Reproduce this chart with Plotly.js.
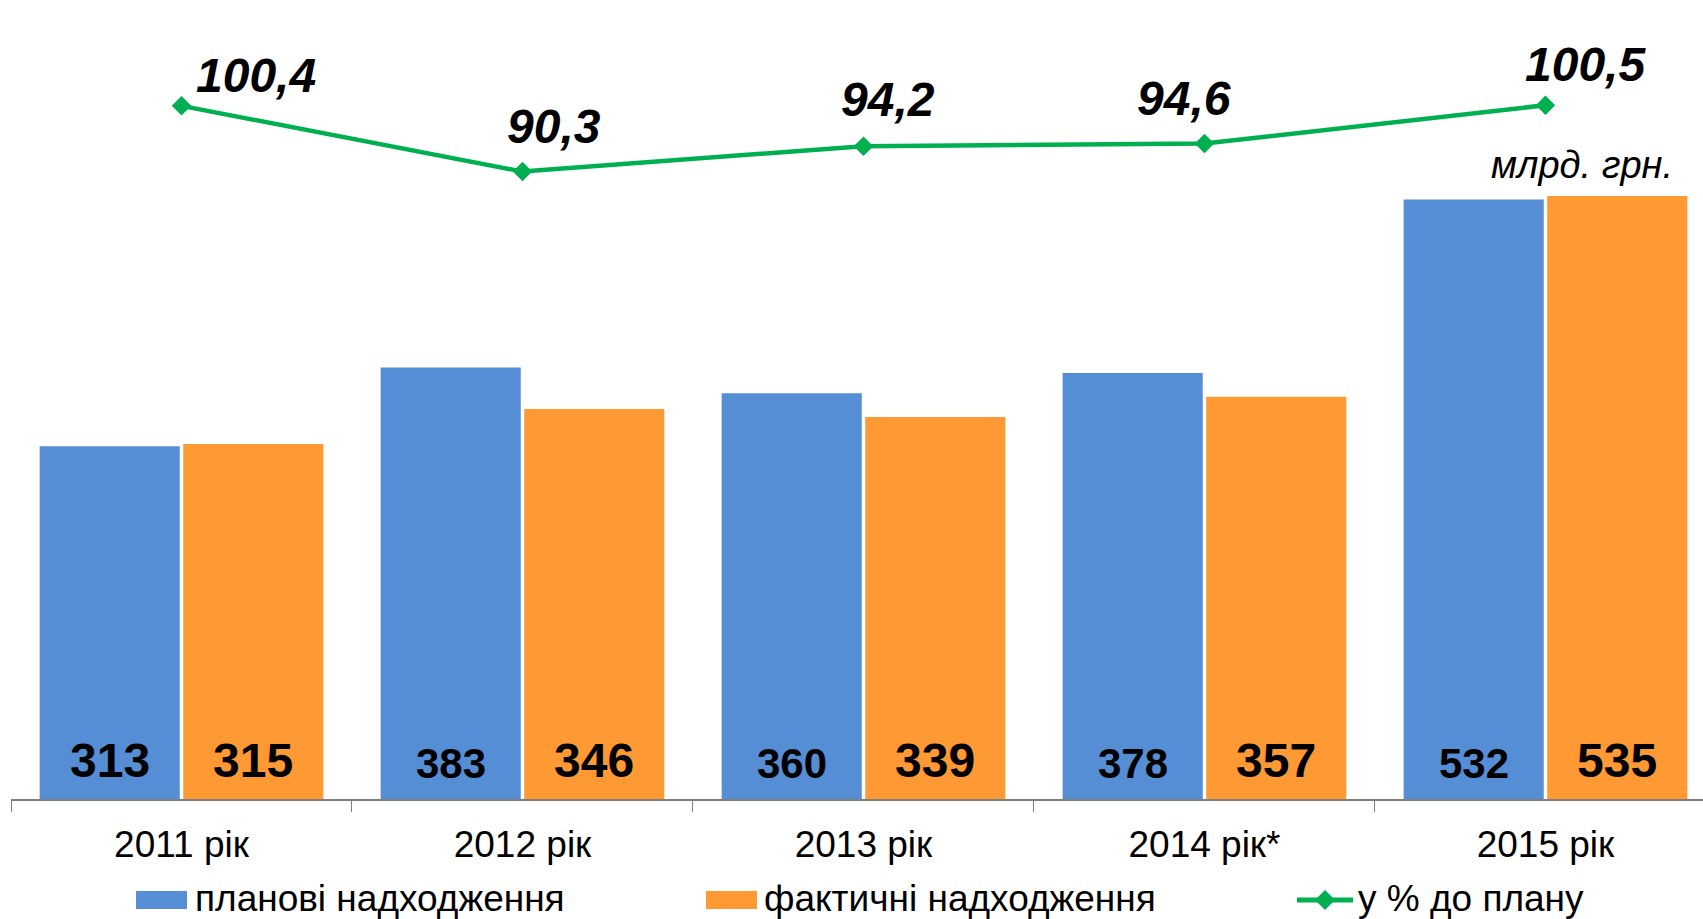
<!DOCTYPE html>
<html>
<head>
<meta charset="utf-8">
<script src="https://cdn.plot.ly/plotly-3.0.1.min.js"></script>
<style>html,body{margin:0;padding:0;background:#fff;}#chart{width:1703px;height:919px;}</style>
</head>
<body>
<div id="chart"></div>
<script>
// ---- data ----
const categories = ['2011 рік', '2012 рік', '2013 рік', '2014 рік*', '2015 рік'];
const planned = [313, 383, 360, 378, 532];
const actual = [315, 346, 339, 357, 535];
const percentOfPlan = [100.4, 90.3, 94.2, 94.6, 100.5];
const seriesNames = ['планові надходження', 'фактичні надходження', 'у % до плану'];
const unitLabel = 'млрд. грн.';

// ---- styles ----
const FONT = 'Liberation Sans, Arial, sans-serif';
const BLUE = '#558ED5', ORANGE = '#FF9933', GREEN = '#00B050';
const plannedLabelSize = [48, 42, 42, 42, 42];
const actualLabelSize = [48, 48, 48, 48, 48];
const pctLabelShift = [[74, 30], [32, 45], [25, 47], [-20, 45], [40, 41]];

const fmt = v => v.toFixed(1).replace('.', ',');

const traces = [
  {type: 'bar', x: categories, y: planned, name: seriesNames[0], marker: {color: BLUE}, hoverinfo: 'skip'},
  {type: 'bar', x: categories, y: actual, name: seriesNames[1], marker: {color: ORANGE}, hoverinfo: 'skip'},
  {type: 'scatter', mode: 'lines+markers', x: categories, y: percentOfPlan, yaxis: 'y2', name: seriesNames[2],
   line: {color: GREEN, width: 4.5}, marker: {symbol: 'diamond', size: 15, color: GREEN}, hoverinfo: 'skip'}
];

const annotations = [];
categories.forEach((c, i) => {
  annotations.push({x: c, y: 0, xref: 'x', yref: 'y', text: String(planned[i]), showarrow: false,
    xshift: -71.75, yshift: 10, xanchor: 'center', yanchor: 'bottom',
    font: {family: FONT, size: plannedLabelSize[i], color: '#000', weight: 'bold'}});
  annotations.push({x: c, y: 0, xref: 'x', yref: 'y', text: String(actual[i]), showarrow: false,
    xshift: 71.75, yshift: 10, xanchor: 'center', yanchor: 'bottom',
    font: {family: FONT, size: actualLabelSize[i], color: '#000', weight: 'bold'}});
  annotations.push({x: c, y: percentOfPlan[i], xref: 'x', yref: 'y2', text: fmt(percentOfPlan[i]), showarrow: false,
    xshift: pctLabelShift[i][0], yshift: pctLabelShift[i][1], xanchor: 'center', yanchor: 'middle',
    font: {family: FONT, size: 48, color: '#000', weight: 'bold', style: 'italic'}});
});

// pixel -> paper helpers (plot area: left 11, top 0, width 1692, height 799)
const px = v => (v - 11) / 1692;
const py = v => (799 - v) / 799;

annotations.push({x: px(1582), y: py(165), xref: 'paper', yref: 'paper', text: unitLabel, showarrow: false,
  xanchor: 'center', yanchor: 'middle', font: {family: FONT, size: 38, color: '#000', style: 'italic'}});

// custom legend
const legendTextX = [193, 762, 1356];
const legendY = 898;
legendTextX.forEach((x, i) => {
  annotations.push({x: px(x), y: py(legendY), xref: 'paper', yref: 'paper', text: seriesNames[i], showarrow: false,
    xanchor: 'left', yanchor: 'middle', font: {family: FONT, size: 37, color: '#000'}});
});

const shapes = [
  {type: 'rect', xref: 'paper', yref: 'paper', x0: px(136), x1: px(187), y0: py(909), y1: py(891), fillcolor: BLUE, line: {width: 0}},
  {type: 'rect', xref: 'paper', yref: 'paper', x0: px(706), x1: px(757), y0: py(909), y1: py(891), fillcolor: ORANGE, line: {width: 0}},
  {type: 'line', xref: 'paper', yref: 'paper', x0: px(1297), x1: px(1353), y0: py(900), y1: py(900), line: {color: GREEN, width: 5}},
  {type: 'path', xref: 'paper', yref: 'paper', xsizemode: 'pixel', ysizemode: 'pixel', xanchor: px(1325), yanchor: py(900),
   path: 'M 0 10 L 10 0 L 0 -10 L -10 0 Z', fillcolor: GREEN, line: {width: 0}}
];

const layout = {
  width: 1703, height: 919, autosize: false,
  margin: {l: 11, r: 0, t: 0, b: 120, pad: 0},
  paper_bgcolor: '#fff', plot_bgcolor: '#fff',
  showlegend: false,
  barmode: 'group', bargap: 0.158, bargroupgap: 0.024,
  font: {family: FONT, color: '#000'},
  xaxis: {type: 'category', range: [-0.5, 4.462], showline: true, linecolor: '#7F7F7F', linewidth: 1.5,
    ticks: 'outside', tickson: 'boundaries', ticklen: 11, tickcolor: '#7F7F7F', tickwidth: 1,
    ticklabelstandoff: 12,
    tickfont: {family: FONT, size: 37, color: '#000'}, showgrid: false, zeroline: false, fixedrange: true},
  yaxis: {range: [0, 709], visible: false, showgrid: false, zeroline: false, fixedrange: true},
  yaxis2: {range: [-6.08, 116.66], overlaying: 'y', side: 'right', visible: false, showgrid: false, zeroline: false, fixedrange: true},
  annotations: annotations,
  shapes: shapes
};

Plotly.newPlot('chart', traces, layout, {staticPlot: true, displayModeBar: false});
</script>
</body>
</html>
